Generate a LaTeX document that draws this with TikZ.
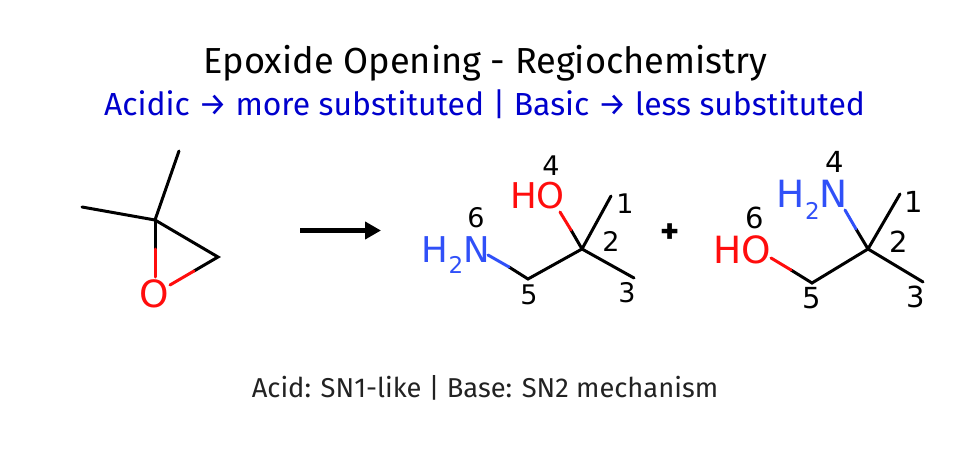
\documentclass[tikz,border=0pt]{standalone}
\usepackage{fontspec}
\setmainfont{Fira Sans}
\newfontfamily\atomfont{DejaVu Sans}
\usetikzlibrary{arrows.meta}
\definecolor{oxred}{HTML}{FF0D0D}
\definecolor{nitblue}{HTML}{3050F8}
\definecolor{subblue}{HTML}{0000CD}
\definecolor{capgray}{HTML}{222222}
\newcommand*{\amine}{H\raisebox{-0.33em}{\fontsize{23}{23}\selectfont 2}N}
\tikzset{
	bond/.style={line width=3pt,line cap=round},
	atom/.style={inner sep=0pt,anchor=base,font=\atomfont\fontsize{35.5}{35.5}\selectfont},
	bigatom/.style={atom,font=\atomfont\fontsize{37.5}{37.5}\selectfont},
	num/.style={inner sep=0pt,text=black,font=\atomfont\fontsize{27}{27}\selectfont},
	bignum/.style={num,font=\atomfont\fontsize{29}{29}\selectfont},
}
\begin{document}
\begin{tikzpicture}[x=1pt,y=-1pt]
	\useasboundingbox (0,0) rectangle (970,460);
	\node[inner sep=0pt,anchor=base,font=\fontsize{36.2}{36.2}\selectfont] (title) at (485.5,74) {Epoxide Opening - Regiochemistry};
	\node[inner sep=0pt,anchor=base,text=subblue,font=\fontsize{31.9}{31.9}\selectfont] (subtitle) at (484.5,115) {Acidic → more substituted | Basic → less substituted};
	\node[inner sep=0pt,anchor=base,text=capgray,font=\fontsize{27.3}{27.3}\selectfont] (caption) at (485,397) {Acid: SN1-like | Base: SN2 mechanism};
	% epoxide
	\coordinate (ec) at (155,220);
	\coordinate (em1) at (179,151);
	\coordinate (em2) at (82,207);
	\coordinate (ech) at (218,257);
	\coordinate (eco) at (155,249);
	\coordinate (ecm) at (194,271);
	\node[bigatom,text=oxred] (eo) at (154.5,307) {O};
	\coordinate (eoa) at (155,277);
	\coordinate (eob) at (170,285);
	\draw[bond] (em1) -- (ec) -- (em2);
	\draw[bond] (ec) -- (ech) -- (ecm);
	\draw[bond] (ec) -- (eco);
	\draw[bond,oxred] (eco) -- (eoa);
	\draw[bond,oxred] (ecm) -- (eob);
	% arrow
	\coordinate (arrowa) at (300,230.5);
	\coordinate (arrowb) at (381,230.5);
	\draw[line width=4.5pt,-{Triangle[length=16pt,width=17pt]}] (arrowa) -- (arrowb);
	% first product
	\coordinate (pa2) at (582,249);
	\coordinate (pa1) at (611,196);
	\coordinate (pa3) at (634,278);
	\coordinate (pa5) at (528,279);
	\coordinate (pan) at (488,255);
	\coordinate (panm) at (509,267);
	\coordinate (pao) at (560,212);
	\coordinate (paom) at (571,230);
	\draw[bond] (pa1) -- (pa2) -- (pa3);
	\draw[bond] (panm) -- (pa5) -- (pa2) -- (paom);
	\draw[bond,nitblue] (pan) -- (panm);
	\draw[bond,oxred] (pao) -- (paom);
	\node[atom,text=oxred] (paho) at (537.5,208) {HO};
	\node[atom,text=nitblue,anchor=base east] (panh) at (490,262) {\amine};
	\node[num] (na1) at (625,204) {1};
	\node[num] (na2) at (611,241) {2};
	\node[num] (na3) at (627,293) {3};
	\node[num] (na4) at (551,166) {4};
	\node[num] (na5) at (529,295) {5};
	\node[num] (na6) at (476,218) {6};
	% plus
	\node[inner sep=0pt,font=\bfseries\fontsize{36}{36}\selectfont] (plus) at (670,234) {+};
	% second product
	\coordinate (pb2) at (868,249);
	\coordinate (pb1) at (900,194);
	\coordinate (pb3) at (923,282);
	\coordinate (pb5) at (812,283);
	\coordinate (pbo) at (771,258);
	\coordinate (pbom) at (791,270);
	\coordinate (pbn) at (845,210);
	\coordinate (pbnm) at (856,229);
	\draw[bond] (pb1) -- (pb2) -- (pb3);
	\draw[bond] (pbom) -- (pb5) -- (pb2) -- (pbnm);
	\draw[bond,oxred] (pbo) -- (pbom);
	\draw[bond,nitblue] (pbn) -- (pbnm);
	\node[bigatom,text=oxred] (pbho) at (742.5,263) {HO};
	\node[bigatom,text=nitblue,anchor=base east] (pbnh) at (848,207) {\amine};
	\node[bignum] (nb1) at (914,202) {1};
	\node[bignum] (nb2) at (899,242) {2};
	\node[bignum] (nb3) at (916,297) {3};
	\node[bignum] (nb4) at (835,162) {4};
	\node[bignum] (nb5) at (812,298) {5};
	\node[bignum] (nb6) at (755,218) {6};
\end{tikzpicture}
\end{document}
